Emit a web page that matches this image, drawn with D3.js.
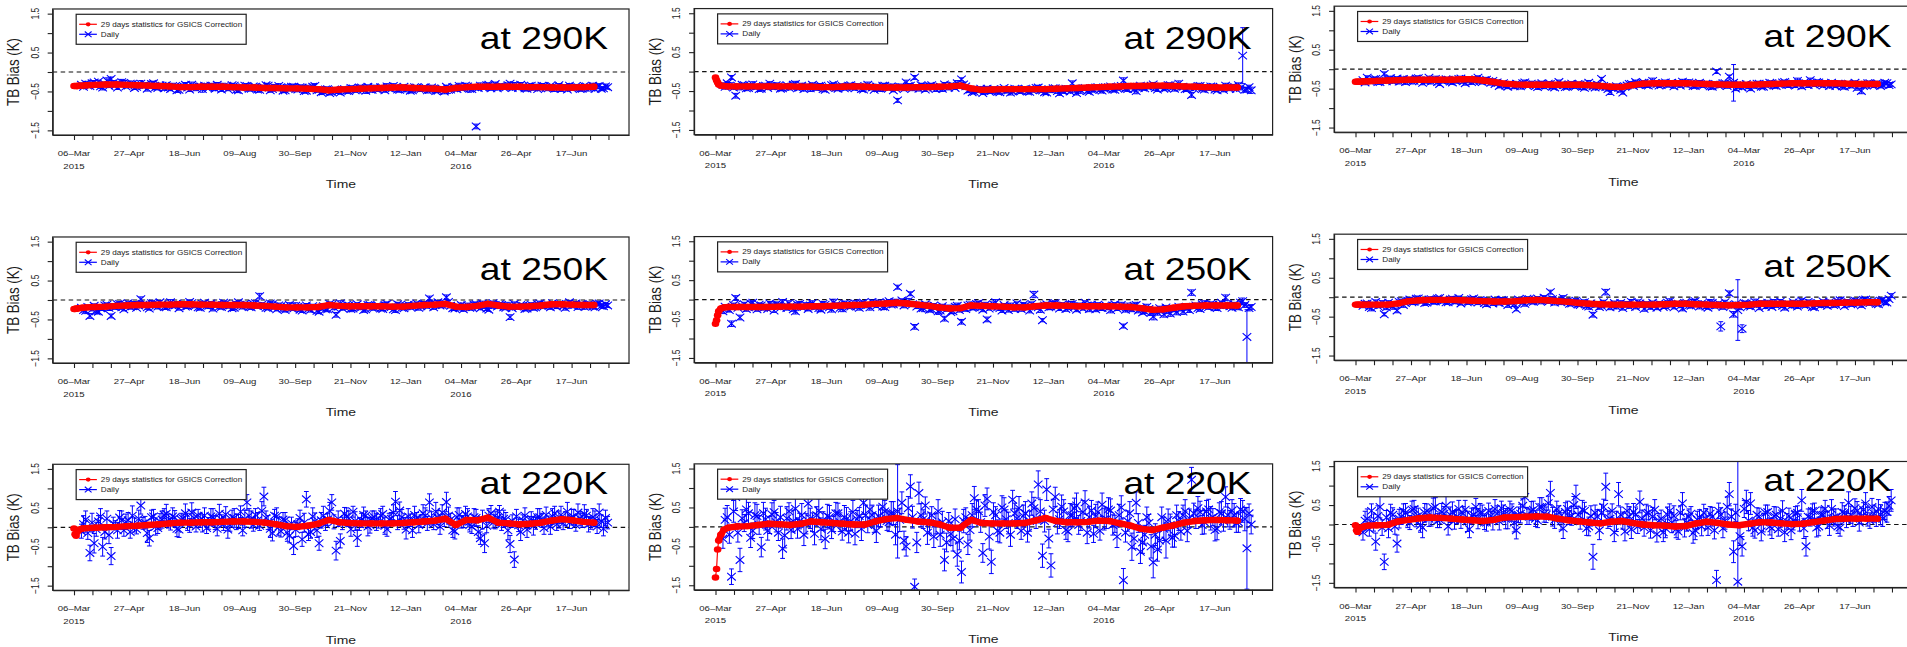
<!DOCTYPE html>
<html>
<head>
<meta charset="utf-8">
<script src="https://cdn.jsdelivr.net/npm/d3@7"></script>
<style>
  html, body { margin: 0; padding: 0; background: #fff; }
  svg { display: block; font-family: "Liberation Sans", Arial, Helvetica, sans-serif; }
</style>
</head>
<body>
<svg id="chart" width="1907" height="647"></svg>
<script>
// ---------------------------------------------------------------------------
// Time axis: days counted from 06-Mar-2015
// ---------------------------------------------------------------------------
const tickLabels = ["06–Mar", "27–Apr", "18–Jun", "09–Aug", "30–Sep", "21–Nov", "12–Jan", "04–Mar", "26–Apr", "17–Jun"];
const yearLabels = ["2015", "2016"];
const yearTickIndex = [0, 21];
const yTicks = [-1.5, -1, -0.5, 0, 0.5, 1, 1.5];
const yLabelValues = [-1.5, -0.5, 0.5, 1.5];
const legendLabels = ["29 days statistics for GSICS Correction", "Daily"];
const panelTitles = ["at 290K", "at 250K", "at 220K"];

// Days of the 29-day running correction samples
const redDays = [0, 1, 2, 3, 5, 8, 12, 20, 30, 40, 50, 60, 70, 80, 90, 100, 110, 120, 130, 140, 150, 160, 170, 180, 190, 200, 210, 220, 230, 240, 250, 260, 270, 280, 290, 300, 310, 320, 330, 340, 350, 360, 370, 380, 390, 400, 410, 420, 430, 440, 450, 460, 470, 480, 490];

// 29-day statistics (bias in 0.01 K), one array per panel
const red290A = [-36,-36,-36,-36,-35,-35,-34, -33,-32,-32,-33,-34,-35,-36,-37,-39,-39, -38,-38,-38,-39,-40,-40,-41,-41,-42,-42, -43,-44,-47,-45,-44,-43,-42,-41,-40,-40, -41,-42,-43,-45,-41,-39,-38,-38,-38,-38, -38,-39,-39,-40,-40,-40,-39,-38];
const red290B = [-15,-22,-28,-33,-36,-37,-38, -38,-38,-38,-38,-38,-38,-39,-39,-40,-40, -39,-38,-39,-40,-41,-41,-41,-40,-40,-39, -38,-36,-43,-47,-46,-45,-45,-45,-45,-45, -44,-43,-42,-41,-40,-39,-38,-37,-37,-36, -36,-37,-38,-39,-40,-41,-41,-41];
const red290C = [-32,-32,-32,-32,-32,-31,-31, -30,-29,-28,-27,-27,-27,-27,-27,-26,-26, -29,-33,-37,-39,-40,-40,-40,-40,-40,-40, -41,-43,-45,-46,-41,-37,-36,-36,-36,-36, -37,-38,-39,-40,-40,-40,-39,-38,-37,-36, -36,-36,-36,-36,-37,-38,-38,-38];
const red250A = [-23,-23,-22,-22,-21,-20,-19, -18,-17,-15,-14,-13,-13,-12,-12,-11,-11, -12,-12,-13,-13,-13,-14,-15,-17,-19,-19, -19,-18,-13,-15,-16,-16,-16,-16,-17,-17, -15,-13,-12,-10,-17,-18,-15,-10,-14,-17, -17,-16,-14,-11,-11,-12,-13,-13];
const red250B = [-62,-53,-40,-30,-23,-20,-19, -19,-19,-19,-19,-18,-18,-18,-17,-17,-16, -15,-14,-13,-11,-10,-8,-10,-13,-16,-20, -23,-22,-15,-16,-17,-18,-20,-20,-17,-15, -15,-16,-17,-17,-17,-17,-18,-19,-22,-26, -25,-21,-17,-16,-15,-15,-15,-15];
const red250C = [-19,-19,-19,-19,-19,-19,-19, -19,-19,-16,-10,-8,-7,-7,-7,-8,-9, -10,-11,-11,-10,-8,-7,-8,-10,-12,-15, -17,-18,-19,-19,-19,-19,-19,-18,-17,-17, -18,-19,-20,-21,-20,-19,-17,-17,-17,-17, -17,-16,-15,-15,-14,-14,-13,-13];
const red220A = [-3,-18,-22,-12,-6,-3,-2, -1,0,1,3,4,6,8,10,12,12, 13,13,14,15,15,14,12,8,3,1, 4,9,19,13,11,10,10,10,10,11, 13,15,17,22,6,19,18,25,12,10, 8,9,12,17,21,18,14,12];
const red220B = [-130,-108,-58,-35,-20,-7,-2, 1,2,5,8,7,5,8,14,12,10, 8,6,6,14,20,23,18,14,12,7, -2,-2,18,10,9,9,9,10,16,23, 15,12,12,13,16,15,9,3,-5,-8, -2,4,11,15,17,18,17,16];
const red220C = [-2,-15,-19,-12,-8,-5,-3, -2,-1,8,12,16,18,17,15,13,11, 9,12,18,19,20,21,20,15,11,8, 5,3,7,9,4,0,-2,-3,-5,-4, 3,7,4,0,-2,2,6,5,3,1, 2,6,10,14,15,15,15,15];

// Daily samples: first day, last day and spacing of the daily grid
const dailyFirstDay = 7, dailyLastDay = 503, dailyStep = 2;

// Daily bias (0.01 K)
const daily290A = [
  -33,-38,-30,-35,-36,-29,-27,-33,-25,-37,-40,-31,-22,-36,-18,-28,-34,-40,-30,-26,
  -28,-37,-35,-30,-31,-41,-38,-33,-30,-36,-33,-43,-37,-31,-29,-39,-41,-34,-35,-42,
  -34,-40,-44,-36,-38,-47,-46,-39,-36,-33,-40,-45,-33,-38,-42,-36,-37,-44,-35,-40,
  -41,-35,-36,-43,-33,-39,-45,-37,-38,-44,-40,-34,-35,-46,-47,-40,-39,-35,-36,-43,
  -43,-37,-38,-45,-46,-40,-40,-34,-35,-47,-44,-39,-41,-36,-39,-48,-47,-41,-42,-38,
  -38,-44,-45,-39,-40,-49,-48,-42,-43,-38,-36,-47,-46,-52,-50,-45,-44,-54,-51,-46,
  -47,-50,-53,-45,-44,-48,-49,-41,-42,-47,-46,-40,-40,-45,-48,-38,-43,-46,-39,-44,
  -45,-39,-41,-47,-37,-42,-44,-36,-40,-45,-46,-41,-38,-44,-42,-48,-47,-39,-40,-43,
  -44,-41,-39,-47,-46,-40,-42,-49,-48,-44,-43,-50,-38,-46,-45,-39,-40,-44,-36,-42,
  -42,-35,-37,-43,-44,-38,-140,-41,-35,-39,-40,-34,-33,-42,-38,-31,-42,-37,-36,-40,
  -39,-34,-30,-41,-34,-38,-41,-33,-37,-42,-43,-36,-35,-40,-38,-44,-40,-35,-36,-41,
  -42,-36,-37,-43,-40,-34,-44,-39,-38,-45,-35,-41,-41,-37,-39,-44,-43,-36,-37,-42,
  -40,-35,-44,-38,-36,-43,-42,-37,-39];
const daily290B = [
  -34,-39,-30,-36,-15,-41,-62,-37,-40,-34,-35,-43,-42,-36,-33,-40,-38,-45,-44,-37,
  -36,-42,-31,-38,-40,-35,-37,-44,-43,-39,-35,-41,-39,-34,-32,-43,-41,-36,-45,-39,
  -38,-43,-34,-40,-42,-37,-36,-45,-47,-41,-40,-35,-33,-42,-44,-38,-37,-43,-41,-36,
  -35,-40,-43,-37,-39,-45,-46,-40,-34,-39,-41,-47,-38,-43,-44,-36,-36,-41,-42,-38,
  -48,-42,-74,-39,-40,-45,-28,-37,-36,-43,-15,-40,-44,-35,-38,-46,-42,-37,-35,-41,
  -45,-40,-39,-44,-33,-38,-41,-35,-36,-42,-30,-37,-20,-33,-38,-49,-46,-53,-52,-47,
  -49,-44,-55,-48,-44,-51,-50,-45,-47,-52,-53,-46,-42,-49,-48,-54,-51,-44,-45,-50,
  -50,-46,-44,-51,-52,-47,-46,-42,-41,-48,-49,-53,-54,-45,-47,-43,-43,-50,-56,-48,
  -50,-44,-45,-51,-30,-47,-55,-49,-48,-43,-42,-50,-52,-46,-46,-41,-40,-47,-49,-44,
  -44,-40,-38,-46,-47,-42,-41,-37,-23,-44,-45,-39,-39,-45,-50,-42,-36,-41,-43,-38,
  -40,-36,-33,-42,-46,-39,-38,-44,-42,-35,-35,-41,-44,-38,-31,-40,-39,-45,-45,-40,
  -60,-43,-41,-37,-37,-45,-46,-40,-43,-38,-39,-46,-48,-42,-42,-47,-36,-41,-44,-39,
  -40,-45,-35,-42,41,-47,-46,-40,-48];
const daily290C = [
  -28,-34,-22,-30,-30,-26,-25,-33,-33,-28,-12,-31,-27,-23,-31,-27,-24,-32,-29,-25,
  -33,-27,-26,-31,-30,-24,-23,-29,-35,-30,-28,-22,-32,-27,-25,-33,-38,-29,-30,-26,
  -27,-32,-34,-28,-29,-25,-24,-31,-36,-29,-28,-33,-31,-26,-22,-30,-33,-28,-27,-31,
  -35,-30,-38,-34,-43,-39,-36,-42,-45,-38,-40,-44,-37,-41,-44,-36,-34,-42,-41,-37,
  -39,-43,-46,-40,-36,-44,-42,-37,-38,-45,-47,-41,-33,-39,-41,-46,-45,-40,-37,-43,
  -43,-38,-39,-45,-48,-42,-35,-41,-44,-47,-40,-45,-25,-43,-46,-51,-59,-48,-50,-44,
  -48,-53,-60,-45,-42,-38,-38,-43,-33,-39,-40,-35,-35,-41,-42,-37,-30,-36,-38,-42,
  -41,-36,-34,-40,-39,-35,-44,-38,-36,-42,-32,-37,-40,-34,-37,-43,-43,-38,-35,-41,
  -41,-37,-38,-44,-45,-39,-6,-42,-40,-36,-36,-43,-19,-38,-35,-50,-44,-39,-47,-41,
  -38,-44,-50,-41,-42,-37,-37,-45,-45,-40,-40,-35,-36,-42,-43,-38,-39,-34,-33,-40,
  -41,-36,-37,-42,-30,-38,-44,-35,-36,-41,-28,-37,-40,-33,-34,-39,-42,-36,-38,-43,
  -35,-40,-43,-37,-39,-44,-45,-38,-37,-42,-41,-35,-48,-40,-56,-43,-40,-36,-36,-41,
  -42,-37,-38,-43,-40,-35,-36,-41,-39];
const daily250A = [
  -20,-26,-28,-18,-41,-24,-15,-29,-30,-21,-22,-14,-12,-20,-41,-16,-18,-11,-10,-19,
  -24,-13,-8,-18,-16,-10,-20,-14,2,-12,-13,-19,-22,-8,-9,-15,-17,-6,-11,-18,
  -19,-12,-6,-15,-14,-9,-21,-13,-10,-17,-16,-5,-8,-14,-13,-19,-20,-10,-7,-15,
  -15,-9,-22,-13,-11,-17,-18,-7,-9,-16,-14,-21,-20,-11,-6,-15,-17,-10,-12,-18,
  -19,-10,-8,-16,10,-12,-15,-20,-21,-9,-11,-18,-24,-14,-16,-22,-26,-17,-13,-21,
  -22,-15,-18,-25,-27,-19,-14,-23,-25,-16,-20,-28,-30,-21,-16,-24,-24,-10,-12,-19,
  -38,-17,-9,-21,-18,-12,-14,-23,-22,-15,-11,-19,-19,-26,-24,-13,-13,-20,-20,-16,
  -15,-22,-23,-13,-10,-19,-18,-24,-26,-11,-14,-20,-21,-16,-12,-18,-17,-13,-9,-20,
  -16,-10,-11,-17,4,-8,-19,-12,-6,-14,-13,-9,7,-5,-15,-21,-22,-16,-20,-13,
  -24,-18,-14,-20,-19,-12,-11,-17,-21,-9,-16,-22,-25,-15,-8,-13,-17,-11,-13,-19,
  -20,-14,-44,-21,-10,-17,-18,-13,-15,-23,-22,-16,-12,-20,-19,-11,-9,-15,-16,-12,
  -14,-19,-8,-13,-17,-10,-11,-16,-20,-12,-6,-14,-13,-9,-18,-12,-10,-17,-15,-11,
  -12,-17,-19,-10,-9,-15,-16,-11,-14];
const daily250B = [
  -30,-18,-22,-27,-62,-14,4,-21,-46,-17,-12,-24,-20,-10,-8,-19,-25,-13,-15,-22,
  -18,-24,-10,-16,-28,-12,-14,-21,-6,-17,-22,-9,-16,-25,-30,-13,-11,-20,-19,-14,
  -24,-15,-9,-19,-17,-22,-26,-11,-13,-18,-20,-25,-7,-14,-15,-21,-23,-10,-12,-18,
  -18,-13,-10,-17,-21,-9,-8,-15,-14,-20,-6,-12,-16,-8,-11,-18,-19,-7,-4,-13,
  -12,-6,32,-10,-2,-15,-9,-4,15,-12,-70,-18,-14,-23,-22,-12,-17,-26,-25,-15,
  -19,-30,-28,-17,-49,-25,-21,-32,-30,-18,-16,-27,-57,-22,-24,-15,-13,-21,-20,-11,
  -9,-20,-26,-14,-51,-23,-18,-12,-7,-19,-22,-28,-14,-21,-27,-16,-19,-24,-10,-17,
  -24,-13,-16,-22,-28,-11,13,-18,-20,-26,-53,-15,-12,-20,-18,-10,-9,-17,-23,-14,
  -15,-24,-21,-12,-11,-19,-26,-16,-17,-23,-8,-15,-24,-13,-19,-25,-13,-20,-22,-17,
  -16,-21,-27,-15,-12,-23,-20,-14,-68,-26,-18,-22,-25,-16,-14,-28,-21,-33,-30,-19,
  -24,-34,-44,-27,-33,-22,-28,-38,-20,-30,-36,-25,-26,-32,-18,-24,-31,-20,-22,-27,
  18,-18,-15,-22,-24,-12,-10,-17,-19,-11,-13,-20,-22,-14,-8,-16,5,-12,-17,-21,
  -12,-18,-20,-8,-4,-14,-96,-22,-19];
const daily250C = [
  -22,-17,-16,-25,-28,-19,-12,-23,-20,-14,-44,-26,-14,-21,-24,-18,-34,-12,-10,-20,
  -15,-9,-6,-13,-12,-4,-3,-10,-9,-15,-14,-6,-5,-11,-11,-3,-2,-9,-8,-13,
  -13,-6,-4,-11,-10,-2,-16,-8,-7,-13,-12,-5,-3,-10,-14,-7,-9,-15,-18,-10,
  -11,-16,-6,-12,-15,-7,-8,-14,-20,-10,-13,-18,-31,-6,-9,-13,-17,-4,-5,-11,
  -12,-7,-3,-9,-10,-1,-6,-12,13,-5,-14,-8,-8,-13,-2,-10,-11,-17,-16,-12,
  -9,-19,-20,-14,-13,-22,-24,-16,-45,-20,-17,-25,-22,-13,13,-19,-26,-21,-15,-24,
  -21,-15,-28,-20,-18,-24,-12,-19,-25,-13,-16,-22,-30,-17,-20,-26,-14,-21,-27,-16,
  -19,-25,-23,-14,-11,-20,-26,-17,-17,-22,-29,-15,-14,-21,-22,-12,-10,-18,-24,-16,
  -18,-24,-27,-13,-15,-22,-21,-16,-75,-25,-13,-19,10,-22,-44,-18,-33,-26,-81,-15,
  -16,-23,-24,-17,-12,-20,-28,-15,-19,-24,-14,-21,-25,-13,-21,-18,-11,-22,-27,-16,
  -18,-23,-13,-19,-24,-14,-9,-20,-20,-12,-15,-25,-26,-16,-17,-21,-11,-18,-22,-13,
  -14,-20,-19,-11,-8,-16,-23,-12,-13,-18,-17,-9,-10,-15,-21,-7,-6,-14,-15,-10,
  -12,-17,-18,-9,-7,-13,-14,-5,4];
const daily220A = [
  -10,8,20,-15,-66,12,-41,-5,15,28,-50,-12,22,-20,-74,10,5,-8,25,18,
  -8,14,18,-12,30,6,-5,22,56,10,12,-15,-28,26,28,2,-2,15,20,32,
  35,16,8,28,25,-4,-6,20,22,36,14,5,38,24,2,30,18,10,30,-2,
  10,28,26,12,-4,35,20,8,33,-6,6,26,24,14,15,40,-8,22,64,30,
  20,6,32,18,4,42,79,24,12,-4,-15,30,28,2,-10,20,18,-14,-22,10,
  -48,-6,8,24,-31,12,72,-18,-12,28,15,-8,-41,18,30,8,20,42,64,14,
  -60,22,-35,10,35,28,22,-5,40,16,-27,8,18,32,30,2,5,24,26,14,
  12,30,34,4,-5,20,22,38,66,12,43,26,10,-6,28,18,-8,32,24,6,
  16,36,30,10,64,24,8,40,25,2,38,18,65,30,20,-8,-10,26,32,14,
  14,34,28,6,2,26,24,-12,-28,20,-41,4,30,36,12,18,25,40,8,22,
  20,-8,-43,16,-83,28,5,-12,18,30,-6,12,22,4,10,26,26,18,-2,32,
  15,2,28,36,8,20,32,10,22,40,12,26,26,6,38,22,18,34,30,8,
  10,26,22,2,38,16,-4,24,12];
const daily220B = [
  -30,18,25,-20,-128,40,77,-15,-85,22,10,45,35,-28,-10,30,28,5,-52,35,
  20,-10,5,32,38,12,-15,25,-56,-22,22,40,-8,15,47,-5,15,30,-20,8,
  60,22,12,-18,30,42,-5,15,-31,28,25,-8,8,35,35,12,-12,25,20,-15,
  15,38,-18,20,28,-5,62,30,5,45,30,10,-10,28,22,52,40,15,12,35,
  35,-20,40,18,62,-35,-50,48,104,25,-154,-40,87,30,20,55,-15,10,30,-25,
  8,40,-20,12,-85,-40,15,-18,-30,20,-71,-35,-116,15,25,-45,-8,30,74,45,
  40,12,-67,55,72,-25,-90,38,30,-10,-15,50,45,20,10,-20,70,35,22,48,
  -10,28,35,-15,15,60,48,22,109,40,-74,15,96,-30,-99,45,77,10,20,52,
  40,-8,-12,30,30,48,55,5,15,38,63,-15,25,42,-18,28,38,-10,57,20,
  20,45,42,5,8,-25,30,50,-137,-15,15,35,-51,-30,62,10,-64,-40,-20,25,
  10,-50,-91,-20,-58,-35,25,-5,-35,18,5,-28,-22,30,15,-12,30,40,-10,22,
  121,35,20,48,38,5,12,40,45,22,25,-8,-5,38,35,15,77,30,18,42,
  30,10,12,45,40,20,-55,35,6];
const daily220C = [
  -20,10,15,-12,35,5,-44,22,45,-8,-96,18,-10,30,25,-5,-49,15,20,35,
  30,12,5,38,40,20,22,-2,-8,30,35,15,18,42,45,10,12,32,28,48,
  -5,25,32,12,20,40,10,28,38,8,-12,22,25,45,15,30,30,5,5,35,
  22,10,40,28,8,42,30,15,15,38,35,5,-15,25,28,48,71,22,20,35,
  38,15,10,45,45,28,25,55,81,20,12,40,30,8,-10,32,40,18,22,50,
  71,25,8,38,35,-10,-5,22,-83,30,20,-15,30,45,97,12,15,35,-20,8,
  78,25,10,-18,35,20,-12,32,25,-5,58,15,-8,28,30,-15,20,38,-25,10,
  15,-20,-10,25,35,5,22,-12,-18,30,54,-8,5,20,28,-22,-15,12,18,-5,
  30,15,-8,28,20,-15,-143,35,25,-10,10,45,78,20,-70,30,-147,-30,-56,40,
  58,10,54,-8,-15,25,20,-18,5,30,32,-5,-10,22,25,-12,15,35,-20,8,
  22,-15,10,28,30,5,62,-10,-56,20,18,35,35,-8,-5,25,25,40,12,-2,
  40,18,20,-5,-8,32,30,12,56,25,15,42,35,5,22,38,54,20,10,45,
  28,15,40,25,15,35,32,48,62];

// Daily standard deviation (0.01 K), drawn as error bars
const sd290A = [
  5,4,6,5,4,7,5,6,4,5,6,5,7,4,5,6,4,5,6,7, 6,4,5,7,5,4,6,5,8,4,5,6,4,7,5,6,5,4,6,5,
  5,6,4,7,5,5,6,4,5,6,4,5,7,5,6,4,5,8,5,4, 4,5,7,5,6,4,5,8,5,4,6,5,4,7,5,6,5,4,6,5,
  6,5,4,7,5,6,5,4,6,5,5,7,4,6,5,5,6,8,5,7, 5,7,4,6,5,5,6,8,5,7,6,5,4,6,5,7,4,5,6,5,
  6,5,4,6,5,7,4,5,6,5,5,4,6,5,7,5,4,6,5,5, 5,4,6,5,7,5,4,6,5,5,6,5,4,7,5,6,5,4,5,6,
  6,5,4,7,5,6,5,4,5,6,5,6,4,9,5,4,6,5,7,4, 5,6,4,9,5,4,6,5,7,4,5,6,4,5,7,5,4,6,5,5,
  5,6,4,5,7,5,4,6,5,5,6,4,5,7,5,4,6,5,5,4, 6,4,5,7,5,4,6,5,5,4,5,6,4,5,6,5,6,4,5,7,
  5,6,4,5,6,5,4,6,5];
const sd290B = [
  5,6,4,8,5,4,6,5,7,4,5,6,4,5,7,5,4,6,5,5, 6,4,5,7,5,6,4,5,6,5,4,6,5,5,7,4,5,6,5,4,
  6,8,5,4,6,6,5,7,4,5,6,5,4,7,5,6,5,4,6,5, 5,7,4,6,5,6,5,4,7,5,6,4,5,5,7,4,6,5,5,6,
  4,6,5,7,5,4,6,5,5,6,5,4,6,5,7,5,4,6,5,5, 6,4,5,7,5,4,6,5,5,4,7,5,4,6,5,5,6,4,5,6,
  5,5,4,8,6,4,6,5,7,5,5,6,4,5,7,6,4,6,5,5, 6,5,5,7,4,6,4,5,6,5,4,6,5,6,7,4,5,6,5,4,
  6,7,5,4,6,6,5,7,4,5,6,5,4,7,5,6,5,4,6,5, 5,7,4,6,5,6,5,4,7,5,6,4,5,5,7,4,6,5,5,6,
  4,6,5,7,5,4,6,5,5,6,5,4,6,5,7,5,4,6,5,5, 6,4,5,7,5,4,6,5,5,4,7,5,4,6,5,5,6,4,5,6,
  5,4,6,5,72,6,6,5,8];
const sd290C = [
  4,6,5,5,7,6,4,5,6,5,5,4,6,5,5,7,4,6,5,5, 6,5,4,7,5,5,6,4,5,6,5,4,6,5,7,5,4,6,5,5,
  4,6,5,5,7,4,6,5,5,6,5,6,4,7,5,6,5,4,6,5, 6,5,4,6,5,7,4,6,5,5,5,6,4,5,7,5,6,5,4,6,
  5,4,6,8,5,6,5,4,6,5,4,6,5,5,7,4,6,5,5,6, 5,4,6,7,5,5,6,4,5,6,6,5,4,5,7,5,6,5,4,6,
  5,6,4,5,6,4,6,5,5,7,6,4,5,6,5,4,7,5,6,5, 4,5,6,5,7,4,5,6,5,4,6,5,5,7,4,6,5,4,6,5,
  5,4,6,8,5,6,5,5,6,4,5,6,4,7,47,5,6,5,4,6, 4,6,5,5,7,4,6,5,5,6,5,4,6,7,5,5,6,4,5,6,
  6,5,4,5,7,5,6,5,4,6,5,6,4,5,6,5,4,6,5,5, 5,6,4,7,5,4,6,5,5,6,4,5,6,5,7,4,6,5,5,4,
  5,6,4,5,6,5,4,6,5];
const sd250A = [
  6,5,7,5,6,4,5,7,5,6,5,6,4,7,5,5,6,4,6,5, 4,6,5,5,7,6,4,5,6,5,6,5,4,7,5,5,6,5,4,6,
  5,6,7,4,6,5,5,6,5,4,6,5,4,6,5,7,5,6,4,5, 7,5,6,4,5,6,5,4,6,5,5,6,4,7,5,5,6,4,6,5,
  5,4,6,5,7,5,6,5,4,6,6,5,4,6,5,7,5,4,6,5, 5,8,6,4,5,6,5,4,6,5,4,6,5,5,7,4,6,5,5,6,
  6,5,7,5,6,4,5,7,5,6,4,6,5,5,7,6,4,5,6,5, 5,6,4,7,5,5,6,4,6,5,6,5,4,7,5,5,6,5,4,6,
  5,6,7,4,6,5,5,6,5,4,7,5,6,4,5,6,5,4,6,5, 5,4,6,5,7,5,6,5,4,6,6,5,4,6,5,7,5,4,6,5,
  5,8,6,4,5,6,5,4,6,5,4,6,5,5,7,4,6,5,5,6, 6,5,4,7,5,6,5,4,6,5,5,6,4,5,6,5,4,7,5,6,
  5,6,4,5,6,5,6,4,5];
const sd250B = [
  6,5,8,5,7,5,6,4,6,5,5,6,4,6,5,7,5,4,6,5, 6,4,5,7,5,6,5,4,6,5,5,6,4,5,7,5,6,4,5,6,
  5,8,6,5,7,9,5,6,4,6,5,7,8,5,6,4,8,6,5,5, 4,6,8,5,6,5,4,6,5,7,5,6,4,7,5,8,6,5,4,6,
  5,7,5,6,4,6,5,7,5,6,6,5,7,4,9,5,6,5,7,5, 6,8,7,5,6,5,7,4,6,5,7,5,6,4,6,5,7,5,6,5,
  5,6,5,7,6,4,5,6,7,5,6,5,4,6,5,7,5,6,4,5, 6,5,7,4,6,5,8,6,5,7,4,6,5,6,7,5,6,4,5,6,
  5,6,4,7,6,5,5,7,6,4,5,6,7,5,4,6,5,7,6,5, 6,5,7,6,4,5,6,7,5,6,9,5,6,5,7,6,5,4,6,7,
  6,7,8,6,7,5,6,7,5,6,7,6,5,7,6,5,7,6,5,6, 7,5,6,4,6,5,7,5,6,5,5,7,6,5,4,6,7,5,6,5,
  5,6,6,5,8,6,70,7,6];
const sd250C = [
  5,6,4,5,7,6,5,4,6,5,4,6,5,5,7,4,6,5,5,6, 4,6,5,5,7,4,6,5,5,6,5,4,6,5,7,5,4,6,5,5,
  5,4,6,5,7,5,4,6,5,5,6,5,4,7,5,6,5,4,6,5, 6,5,4,7,5,6,5,4,6,5,5,6,4,5,7,5,6,4,5,6,
  5,6,4,5,7,5,6,4,5,6,6,5,4,6,6,5,7,5,6,5, 6,5,4,6,6,5,7,5,6,5,4,6,5,5,7,4,6,5,5,6,
  4,6,5,5,7,4,6,5,5,6,5,4,6,5,7,5,4,6,5,5, 5,4,6,5,7,5,4,6,5,5,6,5,4,7,5,6,5,4,6,5,
  6,5,4,7,5,6,5,4,12,6,5,6,6,5,7,5,78,6,10,5, 5,6,4,5,7,5,4,6,5,5,6,5,4,7,5,6,5,4,6,5,
  6,4,5,7,5,6,5,4,6,5,5,6,4,5,7,5,4,6,5,5, 5,6,4,5,7,5,4,6,5,5,6,5,4,7,5,6,5,4,6,5,
  6,5,4,6,5,6,5,4,5];
const sd220A = [
  18,22,22,16,20,24,25,18,15,20,24,18,20,22,22,16,12,20,18,24, 15,20,20,16,25,18,12,22,22,15,16,24,20,18,18,22,14,20,22,16,
  24,18,15,22,18,20,20,16,12,24,22,18,25,20,14,16,18,22,20,14, 15,20,22,18,18,24,12,16,20,22,16,18,24,20,18,15,14,22,20,18,
  22,16,16,20,12,24,24,18,18,22,20,16,22,24,15,18,20,22,18,16, 22,18,14,20,18,24,20,16,16,22,22,18,18,20,24,16,15,22,20,18,
  24,20,18,16,16,22,20,18,14,24,22,16,18,20,12,24,20,18,16,22, 14,18,20,22,18,16,16,20,26,18,22,20,15,24,20,16,18,22,14,20,
  16,22,20,18,22,16,14,24,18,20,20,16,25,22,16,18,20,24,18,16, 15,20,20,18,18,22,22,16,16,24,24,18,18,20,14,22,20,16,16,22,
  18,24,22,16,20,18,16,22,14,20,20,16,18,24,15,22,22,18,16,20, 14,20,20,18,16,22,22,16,18,24,15,20,20,16,22,18,18,24,16,20,
  15,22,20,18,22,16,18,20,16];
const sd220B = [
  25,30,30,22,20,28,35,24,30,22,22,30,28,25,20,32,30,24,25,28, 28,24,22,30,30,25,20,28,25,32,30,22,22,28,35,24,20,30,28,26,
  30,26,24,28,22,30,28,24,25,30,30,22,20,28,26,24,22,30,30,26, 24,30,28,22,22,30,30,26,20,32,26,24,30,28,22,30,28,24,24,30,
  30,26,120,30,28,24,25,30,30,28,20,26,28,30,24,22,30,26,22,28, 26,30,30,28,28,24,22,30,32,26,30,24,28,30,24,26,26,30,30,24,
  30,26,24,28,28,32,30,24,22,28,26,30,30,24,28,30,24,26,26,30, 22,28,30,24,26,30,28,26,35,30,30,28,28,24,30,26,25,28,24,30,
  30,24,26,30,28,26,32,24,24,30,30,28,28,26,22,30,26,24,30,28, 24,30,30,26,22,28,28,30,30,24,26,30,35,26,28,24,30,28,24,26,
  22,30,40,28,30,24,26,30,45,28,28,24,30,26,24,22,26,30,28,24, 32,26,24,30,28,24,30,28,26,30,22,28,28,24,30,26,26,30,24,28,
  30,24,26,28,28,30,105,24,24];
const sd220C = [
  20,24,25,18,18,22,22,26,28,20,20,18,24,22,18,20,22,24,20,18, 24,20,18,22,22,26,20,18,26,24,18,20,22,26,24,18,20,22,18,24,
  22,20,26,24,18,22,20,18,24,26,22,20,18,22,26,24,20,18,22,20, 18,24,24,20,22,18,20,26,26,22,18,24,22,20,24,18,28,22,20,24,
  22,20,18,24,24,22,20,18,30,24,22,20,18,22,26,24,20,18,24,22, 30,22,20,24,22,18,24,26,32,20,18,24,22,20,35,22,20,18,24,26,
  30,20,22,24,18,26,24,22,20,18,28,22,22,24,18,20,24,26,20,18, 22,24,24,20,18,26,26,22,20,18,28,24,22,20,18,26,24,22,20,24,
  22,26,20,18,24,22,25,20,18,24,22,26,30,20,28,22,310,24,25,22, 30,26,28,22,20,18,22,24,24,20,18,22,26,24,20,18,22,26,24,20,
  20,24,24,18,18,22,28,26,25,20,22,18,20,24,24,20,18,22,22,26, 24,22,20,18,22,24,18,20,28,22,20,24,24,22,20,18,28,24,20,22,
  22,20,24,26,20,22,26,24,28];

// Panel table (row = temperature level, col = position in the grid)
const panels = [
  { row: 0, col: 0, red: red290A, daily: daily290A, sd: sd290A },
  { row: 0, col: 1, red: red290B, daily: daily290B, sd: sd290B },
  { row: 0, col: 2, red: red290C, daily: daily290C, sd: sd290C },
  { row: 1, col: 0, red: red250A, daily: daily250A, sd: sd250A },
  { row: 1, col: 1, red: red250B, daily: daily250B, sd: sd250B },
  { row: 1, col: 2, red: red250C, daily: daily250C, sd: sd250C },
  { row: 2, col: 0, red: red220A, daily: daily220A, sd: sd220A },
  { row: 2, col: 1, red: red220B, daily: daily220B, sd: sd220B },
  { row: 2, col: 2, red: red220C, daily: daily220C, sd: sd220C }
];

// ---------------------------------------------------------------------------
// Layout
// ---------------------------------------------------------------------------
const colDay0 = [74, 715.5, 1355.5];      // pixel x of 06-Mar-2015 per column
const colPxPerDay = [1.061, 1.065, 1.065];
const colDy = [0, -0.4, -2.8];
const rowZero = [72, 300, 527.3];         // pixel y of the 0 K line per row
const titleDrop = [40.5, 43, 30];
const pxPerK = 38.9;
const SX = 1.2;                           // horizontal text stretch
const tickStepDays = 17.37, tickCount = 30;
const textColor = "#1c1c1c";

const start = Date.UTC(2015, 2, 6);
const DAY = 864e5;
const dayToDate = d => new Date(start + d * DAY);
const dailyDays = d3.range(dailyFirstDay, dailyLastDay + 1, dailyStep);
const tickDates = d3.range(tickCount).map(i => dayToDate(i * tickStepDays));

const svg = d3.select("#chart");
svg.append("rect").attr("width", 1907).attr("height", 647).attr("fill", "#fff");

function hText(parent, x, y, str, size, anchor, fill) {
  return parent.append("text")
    .attr("transform", `translate(${x},${y}) scale(${SX},1)`)
    .attr("text-anchor", anchor)
    .attr("font-size", size)
    .attr("fill", fill || textColor)
    .text(str);
}
function vText(parent, x, y, str, size) {
  return parent.append("text")
    .attr("transform", `translate(${x},${y}) rotate(-90) scale(1,${SX})`)
    .attr("text-anchor", "middle")
    .attr("font-size", size)
    .attr("fill", textColor)
    .text(str);
}

panels.forEach((p, idx) => {
  const k = colPxPerDay[p.col], d0 = colDay0[p.col];
  const zero = rowZero[p.row] + colDy[p.col];
  const left = d0 - 20.1 * k, right = d0 + 523.1 * k;
  const top = zero - 1.62 * pxPerK, bottom = zero + 1.62 * pxPerK;

  const x = d3.scaleTime().domain([dayToDate(-20.1), dayToDate(523.1)]).range([left, right]);
  const y = d3.scaleLinear().domain([-1.62, 1.62]).range([bottom, top]);

  const g = svg.append("g");
  const clipId = "plotclip" + idx;
  g.append("clipPath").attr("id", clipId)
    .append("rect").attr("x", left).attr("y", top)
    .attr("width", right - left).attr("height", bottom - top);
  const plot = g.append("g").attr("clip-path", `url(#${clipId})`);

  // zero-bias reference
  plot.append("line")
    .attr("x1", left).attr("x2", right)
    .attr("y1", y(0)).attr("y2", y(0))
    .attr("stroke", "#111").attr("stroke-width", 1.2)
    .attr("stroke-dasharray", "4.5,3.5");

  // daily samples with +/- 1 sd bars
  const daily = p.daily.map((v, i) => ({ date: dayToDate(dailyDays[i]), v: v / 100, e: (p.sd[i] || 0) / 100 }));
  plot.append("g").selectAll("path").data(daily).join("path")
    .attr("d", d => {
      const cx = x(d.date), y1 = y(d.v + d.e), y2 = y(d.v - d.e), c = 2.4;
      return `M${cx},${y1}V${y2}M${cx - c},${y1}H${cx + c}M${cx - c},${y2}H${cx + c}`;
    })
    .attr("stroke", "#0000ff").attr("stroke-width", 1).attr("fill", "none");
  plot.append("g").selectAll("path").data(daily).join("path")
    .attr("d", d => {
      const cx = x(d.date), cy = y(d.v), a = 4.3, b = 3.8;
      return `M${cx - a},${cy - b}L${cx + a},${cy + b}M${cx - a},${cy + b}L${cx + a},${cy - b}`;
    })
    .attr("stroke", "#0000ff").attr("stroke-width", 1.1).attr("fill", "none");

  // 29-day statistics
  const redPts = p.red.map((v, i) => ({ day: redDays[i], date: dayToDate(redDays[i]), v: v / 100 }));
  const band = d3.line().defined(d => d.day >= 3).x(d => x(d.date)).y(d => y(d.v));
  const thin = d3.line().x(d => x(d.date)).y(d => y(d.v));
  plot.append("path").attr("d", band(redPts))
    .attr("fill", "none").attr("stroke", "#ff0000").attr("stroke-width", 6.4)
    .attr("stroke-linejoin", "round").attr("stroke-linecap", "round");
  plot.append("path").attr("d", thin(redPts))
    .attr("fill", "none").attr("stroke", "#ff0000").attr("stroke-width", 1.2);
  plot.append("g").selectAll("ellipse").data(redPts).join("ellipse")
    .attr("cx", d => x(d.date)).attr("cy", d => y(d.v))
    .attr("rx", 3.8).attr("ry", 3.2).attr("fill", "#ff0000");

  // frame
  g.append("rect").attr("x", left).attr("y", top)
    .attr("width", right - left).attr("height", bottom - top)
    .attr("fill", "none").attr("stroke", "#222").attr("stroke-width", 1.2);

  // y axis
  const yAxis = g.append("g").attr("transform", `translate(${left},0)`)
    .call(d3.axisLeft(y).tickValues(yTicks).tickSize(5).tickSizeOuter(0).tickFormat(() => ""));
  yAxis.selectAll("path,line").attr("stroke", "#222").attr("stroke-width", 1.1);
  yLabelValues.forEach(v => {
    vText(g, left - 13.9, y(v), v < 0 ? "−" + Math.abs(v).toFixed(1) : v.toFixed(1), 8.5);
  });
  vText(g, left - 33.4, zero, "TB Bias (K)", 13.3);

  // x axis
  const xAxis = g.append("g").attr("transform", `translate(0,${bottom})`)
    .call(d3.axisBottom(x).tickValues(tickDates).tickSize(5).tickSizeOuter(0).tickFormat(() => ""));
  xAxis.selectAll("path,line").attr("stroke", "#222").attr("stroke-width", 1.1);
  tickLabels.forEach((lab, i) => {
    hText(g, x(tickDates[i * 3]), bottom + 21.1, lab, 8, "middle");
  });
  yearLabels.forEach((lab, i) => {
    hText(g, x(tickDates[yearTickIndex[i]]), bottom + 33.5, lab, 8, "middle");
  });
  hText(g, (left + right) / 2, bottom + 53.4, "Time", 11.6, "middle");

  // legend
  const lx = left + 23.5, ly = top + 5.3;
  g.append("rect").attr("x", lx).attr("y", ly).attr("width", 170).attr("height", 30)
    .attr("fill", "#fff").attr("stroke", "#222").attr("stroke-width", 1.2);
  const r1 = ly + 10, r2 = ly + 20;
  g.append("line").attr("x1", lx + 3).attr("x2", lx + 20.7).attr("y1", r1).attr("y2", r1)
    .attr("stroke", "#ff0000").attr("stroke-width", 1.2);
  g.append("ellipse").attr("cx", lx + 12).attr("cy", r1).attr("rx", 2.4).attr("ry", 2.1).attr("fill", "#ff0000");
  g.append("line").attr("x1", lx + 3).attr("x2", lx + 20.7).attr("y1", r2).attr("y2", r2)
    .attr("stroke", "#0000ff").attr("stroke-width", 1.2);
  g.append("path")
    .attr("d", `M${lx + 8.6},${r2 - 2.8}L${lx + 15.4},${r2 + 2.8}M${lx + 8.6},${r2 + 2.8}L${lx + 15.4},${r2 - 2.8}`)
    .attr("stroke", "#0000ff").attr("stroke-width", 1.1);
  hText(g, lx + 24.7, r1 + 2.4, legendLabels[0], 6.8, "start");
  hText(g, lx + 24.7, r2 + 2.4, legendLabels[1], 6.8, "start");

  // temperature level caption
  hText(g, right - 21, top + titleDrop[p.row], panelTitles[p.row], 31, "end", "#000");
});
</script>
</body>
</html>
